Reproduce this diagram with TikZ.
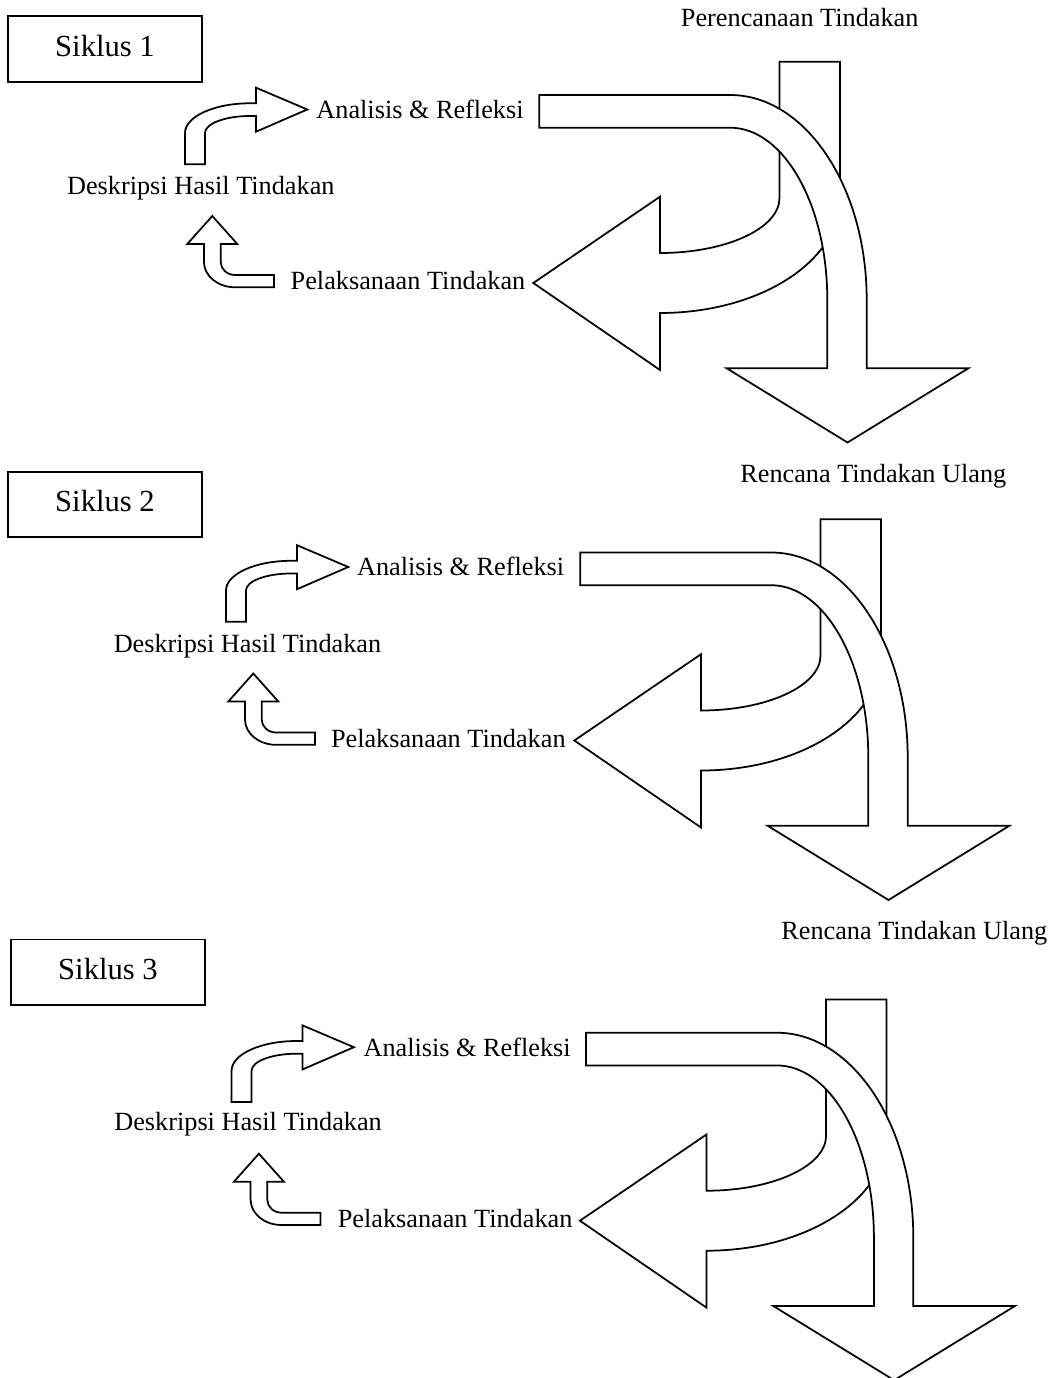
\documentclass[tikz,border=0pt]{standalone}
\usepackage{fontspec}
\setmainfont{Liberation Serif}
\usetikzlibrary{arrows}

\begin{document}
\begin{tikzpicture}[x=0.457pt, y=-0.457pt]
      \tikzstyle{blok} = [draw, fill=white, line width=0.8pt, line join=miter]
      \tikzstyle{teks} = [font=\fontsize{12}{14}\selectfont, inner sep=0pt, anchor=base]
      \tikzstyle{kotak} = [draw, line width=0.8pt, font=\fontsize{14}{16}\selectfont, minimum width=88.4pt, minimum height=30pt, text depth=3pt, inner sep=0pt]
      \clip (0,0) rectangle (1061,1378);
      \node[kotak] (s1) at (105,49) {Siklus 1};
      \node[kotak] (s2) at (105,504.5) {Siklus 2};
      \node[kotak] (s3) at (108,972.2) {Siklus 3};
      \begin{scope}
	\node[teks] (pr1) at (799.7,26.7) {Perencanaan Tindakan};
	\node[teks] (an1) at (420,118.3) {Analisis \& Refleksi};
	\node[teks] (de1) at (200.8,195) {Deskripsi Hasil Tindakan};
	\node[teks] (pe1) at (408,290) {Pelaksanaan Tindakan};
	\node[teks] (ru1) at (873.3,482.3) {Rencana Tindakan Ulang};
	\draw[blok] (779.5,61.7) -- (840,61.7) -- (840,198)
	  arc[start angle=0, end angle=90, x radius=180, y radius=115]
	  -- (660,370) -- (533.3,283) -- (660,196.7) -- (660,253)
	  arc[start angle=90, end angle=0, x radius=119.5, y radius=55] -- cycle;
	\draw[blok] (539.3,95) -- (730,95)
	  arc[start angle=-90, end angle=0, x radius=136.7, y radius=205]
	  -- (866.7,368.3) -- (968.3,368.3) -- (847.5,442.5) -- (726.7,368.3) -- (827.3,368.3) -- (827.3,300)
	  arc[start angle=0, end angle=-90, x radius=97.3, y radius=172.3]
	  -- (539.3,127.7) -- cycle;
	\draw[blok] (185,164.3) -- (185,133)
	  arc[start angle=180, end angle=270, x radius=65, y radius=29.7]
	  -- (256,103.3) -- (256,87.7) -- (307.3,109.5) -- (256,131.7) -- (256,116) -- (250,116)
	  arc[start angle=270, end angle=180, x radius=45, y radius=17]
	  -- (205,164.3) -- cycle;
	\draw[blok] (274,287.3) -- (235,287.3)
	  arc[start angle=90, end angle=180, x radius=31, y radius=25.3]
	  -- (204,244) -- (187.3,244) -- (212.3,216) -- (237.3,244) -- (220.7,244) -- (220.7,262)
	  arc[start angle=180, end angle=90, x radius=14.3, y radius=13]
	  -- (274,275) -- cycle;
      \end{scope}
      \begin{scope}[shift={(41,457.5)}]
	\node[teks] (an2) at (419.6,118.3) {Analisis \& Refleksi};
	\node[teks] (de2) at (206.5,194.8) {Deskripsi Hasil Tindakan};
	\node[teks] (pe2) at (407.3,290) {Pelaksanaan Tindakan};
	\node[teks] (ru2) at (873.3,482.3) {Rencana Tindakan Ulang};
	\draw[blok] (779.5,61.7) -- (840,61.7) -- (840,198)
	  arc[start angle=0, end angle=90, x radius=180, y radius=115]
	  -- (660,370) -- (533.3,283) -- (660,196.7) -- (660,253)
	  arc[start angle=90, end angle=0, x radius=119.5, y radius=55] -- cycle;
	\draw[blok] (539.3,95) -- (730,95)
	  arc[start angle=-90, end angle=0, x radius=136.7, y radius=205]
	  -- (866.7,368.3) -- (968.3,368.3) -- (847.5,442.5) -- (726.7,368.3) -- (827.3,368.3) -- (827.3,300)
	  arc[start angle=0, end angle=-90, x radius=97.3, y radius=172.3]
	  -- (539.3,127.7) -- cycle;
	\draw[blok] (185,164.3) -- (185,133)
	  arc[start angle=180, end angle=270, x radius=65, y radius=29.7]
	  -- (256,103.3) -- (256,87.7) -- (307.3,109.5) -- (256,131.7) -- (256,116) -- (250,116)
	  arc[start angle=270, end angle=180, x radius=45, y radius=17]
	  -- (205,164.3) -- cycle;
	\draw[blok] (274,287.3) -- (235,287.3)
	  arc[start angle=90, end angle=180, x radius=31, y radius=25.3]
	  -- (204,244) -- (187.3,244) -- (212.3,216) -- (237.3,244) -- (220.7,244) -- (220.7,262)
	  arc[start angle=180, end angle=90, x radius=14.3, y radius=13]
	  -- (274,275) -- cycle;
      \end{scope}
      \begin{scope}[shift={(46.6,937.7)}]
	\node[teks] (an3) at (420.5,118.3) {Analisis \& Refleksi};
	\node[teks] (de3) at (201.5,193) {Deskripsi Hasil Tindakan};
	\node[teks] (pe3) at (408.5,290) {Pelaksanaan Tindakan};
	\draw[blok] (779.5,61.7) -- (840,61.7) -- (840,198)
	  arc[start angle=0, end angle=90, x radius=180, y radius=115]
	  -- (660,370) -- (533.3,283) -- (660,196.7) -- (660,253)
	  arc[start angle=90, end angle=0, x radius=119.5, y radius=55] -- cycle;
	\draw[blok] (539.3,95) -- (730,95)
	  arc[start angle=-90, end angle=0, x radius=136.7, y radius=205]
	  -- (866.7,368.3) -- (968.3,368.3) -- (847.5,442.5) -- (726.7,368.3) -- (827.3,368.3) -- (827.3,300)
	  arc[start angle=0, end angle=-90, x radius=97.3, y radius=172.3]
	  -- (539.3,127.7) -- cycle;
	\draw[blok] (185,164.3) -- (185,133)
	  arc[start angle=180, end angle=270, x radius=65, y radius=29.7]
	  -- (256,103.3) -- (256,87.7) -- (307.3,109.5) -- (256,131.7) -- (256,116) -- (250,116)
	  arc[start angle=270, end angle=180, x radius=45, y radius=17]
	  -- (205,164.3) -- cycle;
	\draw[blok] (274,287.3) -- (235,287.3)
	  arc[start angle=90, end angle=180, x radius=31, y radius=25.3]
	  -- (204,244) -- (187.3,244) -- (212.3,216) -- (237.3,244) -- (220.7,244) -- (220.7,262)
	  arc[start angle=180, end angle=90, x radius=14.3, y radius=13]
	  -- (274,275) -- cycle;
      \end{scope}
    \end{tikzpicture}
\end{document}
